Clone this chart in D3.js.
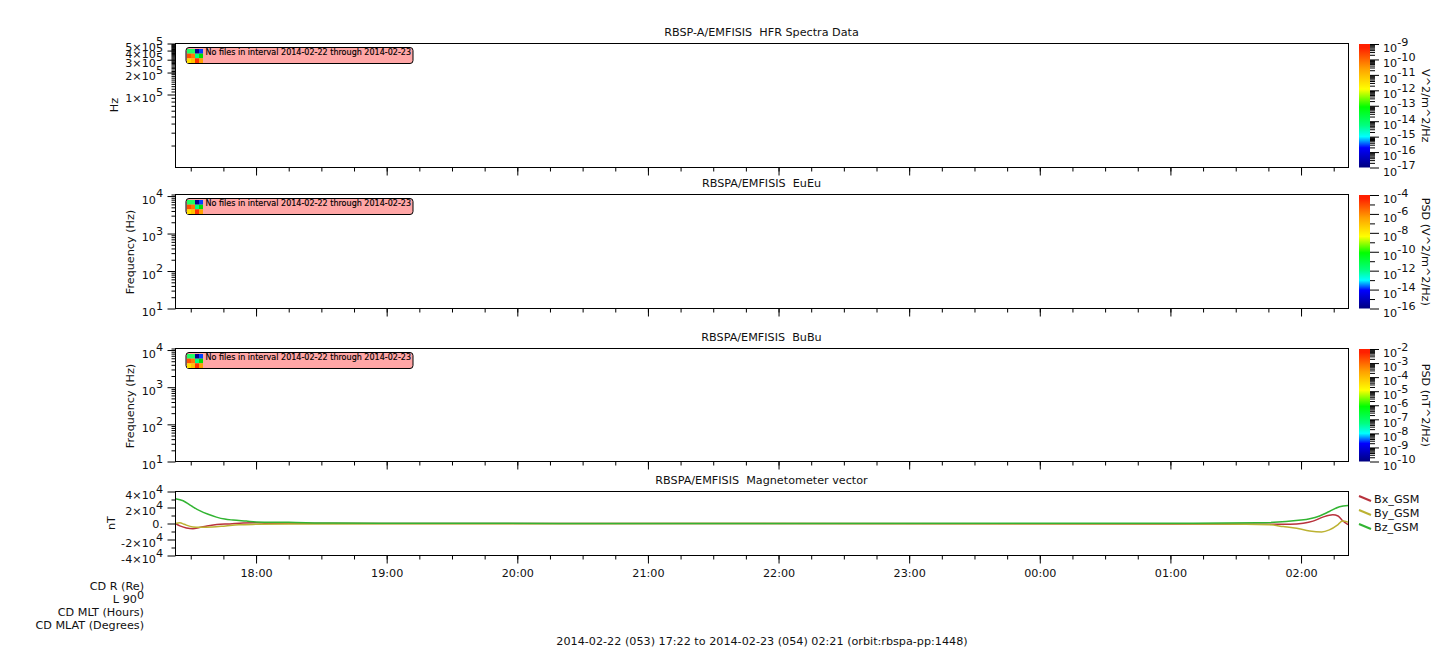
<!DOCTYPE html>
<html><head><meta charset="utf-8">
<script src="https://cdn.jsdelivr.net/npm/d3@7"></script>
<style>
html,body{margin:0;padding:0;background:#fff}
svg{display:block}
text{font-family:"DejaVu Sans",sans-serif;font-size:11.2px;fill:#111;white-space:pre}
</style></head><body><svg id="c" width="1447" height="658"></svg>
<script>
const timeTickMinutes=[0,60,120,180,240,300,360,420,480];
const timeTickLabels=["18:00","19:00","20:00","21:00","22:00","23:00","00:00","01:00","02:00"];
const panelTitles=["RBSP-A/EMFISIS  HFR Spectra Data","RBSPA/EMFISIS  EuEu","RBSPA/EMFISIS  BuBu","RBSPA/EMFISIS  Magnetometer vector"];
const noFilesMessage="No files in interval 2014-02-22 through 2014-02-23";
const footerText="2014-02-22 (053) 17:22 to 2014-02-23 (054) 02:21 (orbit:rbspa-pp:1448)";
const orbitLabels=["CD R (Re)","L 90","CD MLT (Hours)","CD MLAT (Degrees)"];
const hfrMajor=[1e5,2e5,3e5,4e5,5e5];
const hfrCoef=["1","2","3","4","5"];
const cbar1Exp=[-9,-10,-11,-12,-13,-14,-15,-16,-17];
const cbar2Exp=[-4,-6,-8,-10,-12,-14,-16];
const cbar3Exp=[-2,-3,-4,-5,-6,-7,-8,-9,-10];
const rainbowOffsets=[0,0.16,0.25,0.34,0.49,0.635,0.8,0.97,1];
const rainbowColors=["#00007f","#0000ff","#00ffff","#00ff80","#00ff00","#ffff00","#ffa000","#ff2000","#ff2000"];
const iconColors=["#20ff60","#20ff60","#000090","#0040ff","#ff5000","#ff7a00","#00ff80","#00e000","#ffe000","#ffc000","#ff3000","#ffa000"];
const seriesNames=["Bx_GSM","By_GSM","Bz_GSM"];
const seriesColors=["#b8323c","#bcb232","#32b432"];
const bxT=[-37,-35,-32,-29,-26,-23,-18,-12,-6,0,5,60,200,420,465,475,481,485.5,490,494.6,497,499,501.6];
const bxV=[0,-3000,-5500,-6500,-5000,-3500,-1300,-500,500,800,300,0,-100,-500,-800,-800,400,3000,8000,11000,9400,3800,-1300];
const byT=[-37,-35,-33,-29,-26,-20,-14,-8,0,15,60,200,420,465.6,471.8,478,484,489.5,493,497,499,501.6];
const byV=[0,1000,-1000,-4300,-4700,-4300,-3000,-1700,-1000,-500,-400,0,-400,-1700,-3800,-6000,-9400,-10600,-8000,-1300,3000,1700];
const bzT=[-37,-33.5,-29.7,-25.9,-22,-18.2,-14.4,-10.6,-4.4,0,15,35,75,200,420,460,480,484,488.5,493,497.7,501.6];
const bzV=[31000,28500,22000,16000,11500,8000,5500,4300,3000,2000,1500,500,300,100,200,800,4300,6000,9400,15000,21000,22500];

const svg=d3.select("#c");
const X0=175.5,X1=1348.5;
const x=d3.scaleLinear().domain([-37,501.8]).range([X0,X1]);
const minorT=d3.range(-30,502,15);
const sup=(sel,base,exp,dy=-6.5)=>{sel.append("tspan").text(base);sel.append("tspan").attr("dy",dy).text(exp);};

function frame(top,bottom,title,showLabels){
  const g=svg.append("g");
  const ax=d3.axisBottom(x).tickValues(minorT).tickSize(4).tickFormat("");
  const ax2=d3.axisBottom(x).tickValues(timeTickMinutes).tickSize(8).tickFormat((d,i)=>showLabels?timeTickLabels[i]:"");
  const a=g.append("g").attr("transform",`translate(0,${bottom})`).call(ax);
  const b=g.append("g").attr("transform",`translate(0,${bottom})`).call(ax2);
  [a,b].forEach(s=>{s.select(".domain").remove();s.selectAll("line").attr("stroke","#000");s.attr("font-family",null).attr("font-size",null)});
  b.selectAll("text").attr("y",14).attr("dy","0.71em");
  g.append("text").attr("x",(X0+X1)/2-0.5).attr("y",top-8).attr("text-anchor","middle").text(title);
  return g;
}
function box(top,bottom){
  svg.append("rect").attr("x",X0).attr("y",top).attr("width",X1-X0).attr("height",bottom-top).attr("fill","none").attr("stroke","#000").attr("stroke-width",1);
}
function yTicks(scale,maj,min,fmt){
  const g=svg.append("g");
  const a=g.append("g").attr("transform",`translate(${X0},0)`).call(d3.axisLeft(scale).tickValues(min).tickSize(4).tickFormat(""));
  const b=g.append("g").attr("transform",`translate(${X0},0)`).call(d3.axisLeft(scale).tickValues(maj).tickSize(8).tickFormat(""));
  [a,b].forEach(s=>{s.select(".domain").remove();s.selectAll("line").attr("stroke","#000");});
  maj.forEach((v,i)=>{
    const t=g.append("text").attr("x",X0-12.5).attr("y",scale(v)+(v===0?4:7.5)).attr("text-anchor","end");
    fmt(t,v,i);
  });
}
function yLabel(text,cy,xp){
  svg.append("text").attr("transform",`translate(${xp},${cy}) rotate(-90)`).attr("text-anchor","middle").text(text);
}
function cbar(id,top,bottom,exps,label){
  const xl=1359,xr=1370;
  const grad=svg.append("defs").append("linearGradient").attr("id",id).attr("x1",0).attr("y1",1).attr("x2",0).attr("y2",0);
  rainbowColors.forEach((c,i)=>grad.append("stop").attr("offset",rainbowOffsets[i]).attr("stop-color",c));
  svg.append("rect").attr("x",xl).attr("y",top).attr("width",xr-xl).attr("height",bottom-top).attr("fill",`url(#${id})`);
  const lo=d3.min(exps),hi=d3.max(exps);
  const s=d3.scaleLog().domain([10**lo,10**hi]).range([bottom,top]);
  const step=Math.abs(exps[1]-exps[0]);
  const minor=[];
  for(let e=lo;e<hi;e+=step){
    if(step===1){for(let k=2;k<10;k++)minor.push(k*10**e);}
    else minor.push(10**(e+1));
  }
  const a=svg.append("g").attr("transform",`translate(${xr},0)`).call(d3.axisRight(s).tickValues(minor).tickSize(5).tickFormat(""));
  const b=svg.append("g").attr("transform",`translate(${xr},0)`).call(d3.axisRight(s).tickValues(exps.map(e=>10**e)).tickSize(9).tickFormat(""));
  [a,b].forEach(g=>{g.select(".domain").remove();g.selectAll("line").attr("stroke","#000");});
  exps.forEach(e=>{
    const t=svg.append("text").attr("x",xr+13).attr("y",s(10**e)+8);
    sup(t,"10",String(e));
  });
  svg.append("text").attr("transform",`translate(1422,${(top+bottom)/2}) rotate(90)`).attr("text-anchor","middle").text(label);
}
function noFiles(top){
  const g=svg.append("g");
  g.append("rect").attr("x",186).attr("y",top+4).attr("width",227).attr("height",16).attr("rx",3).attr("fill","#ffa6a6").attr("stroke","#000");
  const cx=d3.scaleBand().domain(d3.range(4)).range([187,203]);
  const cy=d3.scaleBand().domain(d3.range(3)).range([top+5.5,top+19.5]);
  iconColors.forEach((c,i)=>g.append("rect").attr("x",cx(i%4)).attr("y",cy(Math.floor(i/4))).attr("width",cx.bandwidth()).attr("height",cy.bandwidth()).attr("fill",c));
  g.append("text").attr("x",205.5).attr("y",top+11.5).style("font-size","8px").style("fill","#000").style("stroke","#000").style("stroke-width","0.15px").attr("textLength",205.5).text(noFilesMessage);
}
function logMinor(lo,hi){const m=[];for(let e=lo;e<hi;e++)for(let k=2;k<10;k++)m.push(k*10**e);return m;}

// panel 1
let t=43.5,bt=167.5;
frame(t,bt,panelTitles[0],false);
const y1=d3.scaleLog().domain([1e4,5e5]).range([bt,t]);
yTicks(y1,hfrMajor,logMinor(4,5).concat(d3.range(1.1e5,5e5,1e4)),(s,v,i)=>sup(s,hfrCoef[i]+"\u00d710","5"));
yLabel("Hz",105,118);
box(t,bt);noFiles(t);
cbar("g1",44,167.5,cbar1Exp,"V^2/m^2/Hz");
// panel 2
t=194.5;bt=308.5;
frame(t,bt,panelTitles[1],false);
const y2=d3.scaleLog().domain([10,1.1e4]).range([bt,t]);
const fm=[1e4,1e3,1e2,1e1],fe=["4","3","2","1"];
yTicks(y2,fm,logMinor(1,4).concat([1.1e4]),(s,v,i)=>sup(s,"10",fe[i]));
yLabel("Frequency (Hz)",252,134);
box(t,bt);noFiles(t);
cbar("g2",195,308.5,cbar2Exp,"PSD (V^2/m^2/Hz)");
// panel 3
t=348.5;bt=461.5;
frame(t,bt,panelTitles[2],false);
const y3=d3.scaleLog().domain([10,1.1e4]).range([bt,t]);
yTicks(y3,fm,logMinor(1,4).concat([1.1e4]),(s,v,i)=>sup(s,"10",fe[i]));
yLabel("Frequency (Hz)",406,134);
box(t,bt);noFiles(t);
cbar("g3",349,461.5,cbar3Exp,"PSD (nT^2/Hz)");
// panel 4
t=491.5;bt=555.5;
frame(t,bt,panelTitles[3],true);
const y4=d3.scaleLinear().domain([-4e4,4e4]).range([bt,t]);
yTicks(y4,[4e4,2e4,0,-2e4,-4e4],[3e4,1e4,-1e4,-3e4],(s,v)=>{
  if(v===0)s.text("0.");else sup(s,(v>0?"":"-")+Math.abs(v/1e4)+"\u00d710","4");
});
yLabel("nT",523,115);
const line=d3.line().x(d=>x(d[0])).y(d=>y4(d[1])).curve(d3.curveMonotoneX);
[[bxT,bxV],[byT,byV],[bzT,bzV]].forEach(([a,b],i)=>{
  svg.append("path").attr("d",line(a.map((v,j)=>[v,b[j]]))).attr("fill","none").attr("stroke",seriesColors[i]).attr("stroke-width",1.5);
});
box(t,bt);
// legend
const yy=d3.scaleBand().domain(seriesNames).range([492,534]);
seriesNames.forEach((n,i)=>{
  const c=yy(n)+yy.bandwidth()/2;
  svg.append("line").attr("x1",1359).attr("x2",1371).attr("y1",c-3).attr("y2",c+2).attr("stroke",seriesColors[i]).attr("stroke-width",2);
  svg.append("text").attr("x",1374).attr("y",c+4).text(n);
});
// orbit labels
const oy=d3.scalePoint().domain(orbitLabels).range([589.5,628.5]);
orbitLabels.forEach(l=>{
  const s=svg.append("text").attr("x",144).attr("y",oy(l)).attr("text-anchor","end");
  if(l==="L 90")sup(s,l,"0",-4);else s.text(l);
});
svg.append("text").attr("x",762).attr("y",645).attr("text-anchor","middle").text(footerText);
</script></body></html>
